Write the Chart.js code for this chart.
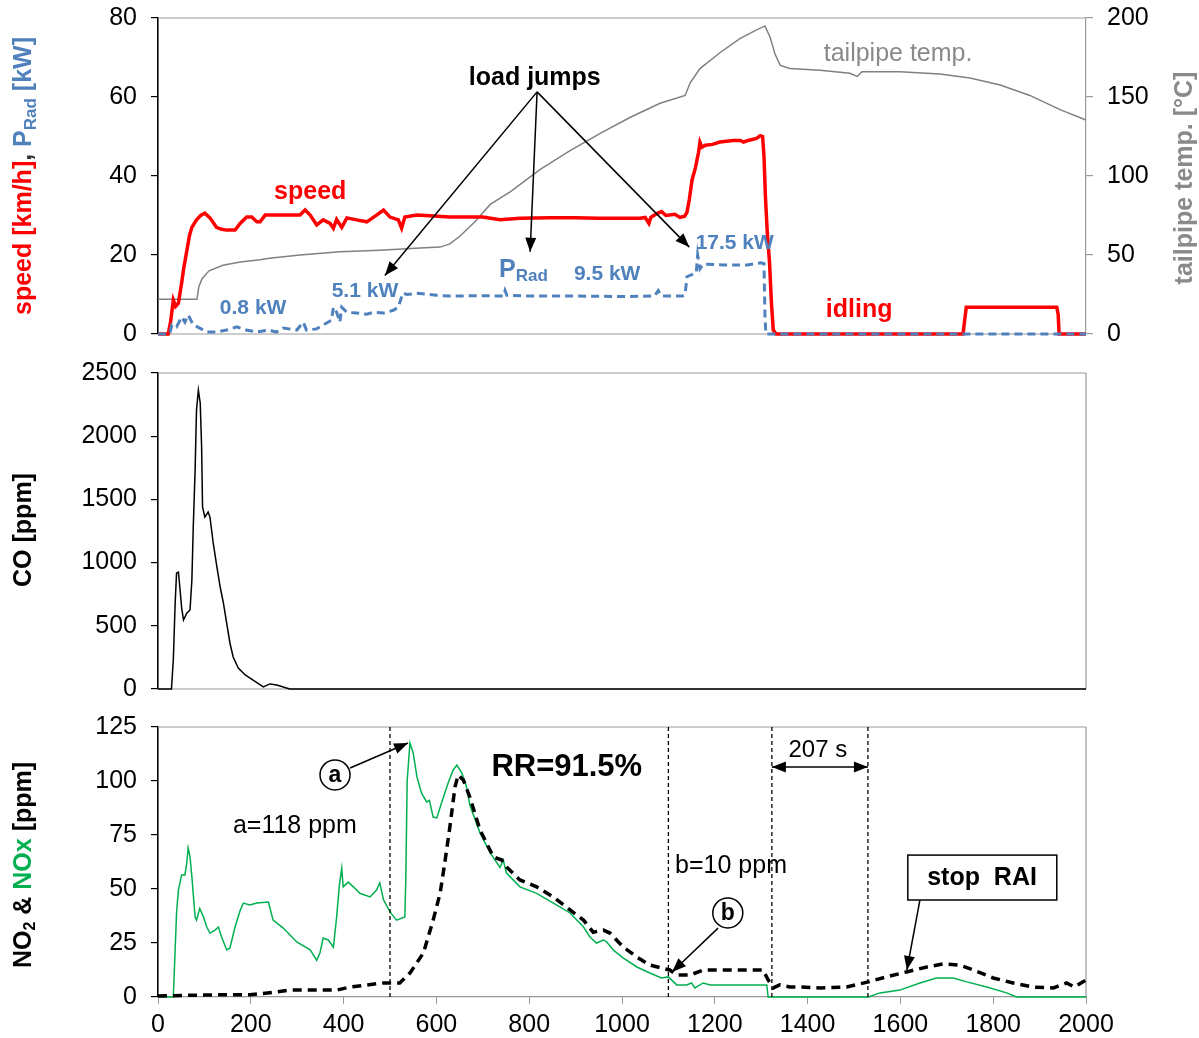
<!DOCTYPE html>
<html><head><meta charset="utf-8">
<script src="https://cdn.jsdelivr.net/npm/chart.js@4.4.0/dist/chart.umd.min.js"></script>
<style>
body{margin:0;background:#fff;width:1199px;height:1038px;overflow:hidden;position:relative}
canvas{position:absolute;left:0}
</style></head><body>
<canvas id="c1" width="1199" height="350" style="top:0"></canvas>
<canvas id="c2" width="1199" height="355" style="top:350px"></canvas>
<canvas id="c3" width="1199" height="333" style="top:705px"></canvas>
<script>
/* ── data ── */
// panel 1: speed [km/h], radiator power [kW], tailpipe temp [°C]
const speedT=[0,22,27,33,38,44,51,56,62,68,73,83,92,101,112,126,137,148,166,177,191,202,213,220,231,260,290,306,317,328,342,356,371,378,385,396,407,428,450,471,486,500,518,525,532,558,629,700,737,780,845,900,950,1000,1039,1050,1058,1062,1075,1085,1095,1114,1125,1135,1140,1145,1151,1158,1165,1168,1172,1180,1195,1211,1240,1255,1262,1272,1290,1298,1303,1306,1309,1313,1318,1322,1326,1332,1735,1738,1742,1800,1937,1940,1942,2000];
const speedV=[0,0,3,8.6,7,7.8,13,17,21,25,27,28.9,30,30.6,29.4,27,26.5,26.3,26.3,28,29.6,29.6,28.4,28.4,30.1,30.1,30.1,30.1,31.4,30.1,27.6,28.9,28,26.8,29,27,29.4,28.9,28.4,30.1,31.4,29.6,28.9,26.8,29.6,30.1,29.6,29.6,28.9,29.3,29.4,29.4,29.3,29.3,29.3,29.5,28,29.5,30.5,31,30,30.3,29.5,29.8,30.8,34,39,42,46,48.5,47.3,47.8,48,48.6,49,49,48.6,49,49.5,50.2,50,45,35,26,18,8,1,0,0,3,6.8,6.8,6.8,5,0,0];
const pradT=[0,25,30,40,51,58,65,76,90,105,126,148,170,190,213,240,255,270,299,313,320,342,356,374,378,385,392,396,407,428,450,464,486,507,518,525,528,536,560,600,629,700,745,748,752,800,900,1000,1070,1078,1085,1130,1136,1140,1160,1163,1168,1175,1220,1270,1300,1306,1308,1310,2000];
const pradV=[0,0,2.3,1.8,4.3,3,4.8,2.3,1.5,0.5,0.5,1,1.8,1,0.5,1,0.5,1.5,1,3,1,1.3,2.3,3.5,6.8,5.5,3,6.8,5.5,5.3,5,5.5,5.3,6,6.8,9.4,10.4,10,10.3,9.8,9.6,9.7,9.6,11,9.8,9.6,9.6,9.5,9.6,11,9.6,9.6,10,14.5,15.5,20,16.5,17.7,17.5,17.5,18,17.8,5,0,0];
const tempT=[0,84,88,95,110,140,177,220,240,306,392,478,565,608,629,651,683,716,759,823,888,953,1017,1082,1136,1147,1168,1211,1254,1287,1308,1319,1330,1341,1362,1427,1491,1507,1517,1599,1685,1750,1815,1879,1944,2000];
const tempV=[22,22,30,35,40,43.5,45.6,47,48,50,52,53,54.4,55,57,62,71,82,90,104,116,127,137,146,151,159,168,178,187,192,195,188,177,170,168,167,165,163,166,166,164.5,162,157.6,151,142,135.4];
// panel 2: CO [ppm]
const coT=[0,29,33,37,40,44,47,51,55,62,69,73,76,80,83,87,91,94,96,101,108,112,119,127,134,141,148,155,162,173,188,205,227,241,256,277,284,2000];
const coV=[0,0,230,680,918,925,807,640,546,600,625,862,1282,1733,2207,2365,2263,1915,1440,1360,1400,1360,1155,965,807,680,522,364,253,166,111,71,16,40,32,8,0,0];
// panel 3: NOx and NO2 [ppm]
const noxT=[0,33,40,44,51,58,62,65,69,73,80,83,90,98,105,112,123,130,137,148,155,166,177,184,198,213,238,248,270,299,328,342,349,356,367,378,385,391,396,399,410,421,435,457,471,478,486,500,514,532,534,537,543,550,558,568,579,585,593,601,611,626,636,644,655,665,672,694,716,737,744,751,780,816,852,888,917,931,945,960,967,981,1003,1032,1060,1085,1100,1118,1139,1150,1157,1175,1190,1261,1312,1315,1531,1556,1599,1642,1678,1714,1743,1786,1829,1850,2000];
const noxV=[0,0,39,49.5,56.5,56.5,62,69,65,55.6,37,35.6,41,37,32.4,29.6,31,32.4,27.8,21.8,22.7,32.4,40,43.5,42.6,43.5,44,35.6,31.9,25.5,21.8,17,20.4,27.3,26.4,23.1,37,51.9,59.7,51,53.2,51,48,46.3,49.5,52.8,45,39.4,35.6,37,54,100,117.6,113,102,94.4,90.3,91,83.3,82.9,89.8,99.5,105,107.4,103.7,97.2,88.9,76,66.7,60,63.4,57.4,51,48,43.5,38.9,32.4,27.8,25,26.4,25.5,21.8,18,13.9,11.1,8.8,9.3,5.6,5.6,6.5,4.2,6.5,5.6,5.6,5.6,0,0,1.9,3.2,6.5,8.8,8.8,7,4.6,1.9,0,0];
const no2T=[0,126,198,241,284,385,414,486,521,543,572,593,608,618,629,640,647,658,672,694,723,741,751,780,816,852,888,917,938,960,974,1003,1032,1060,1085,1103,1118,1147,1175,1304,1315,1326,1340,1362,1384,1427,1484,1531,1570,1613,1657,1692,1728,1757,1800,1843,1886,1930,1958,1975,2000];
const no2V=[0.5,1,1,2,3.2,3.2,4.6,6.5,6.5,11.1,20.4,35.6,48,62,78.7,97.2,102.8,100.5,92.6,77.3,64.8,63.4,60.2,54.2,51,46.3,40.3,35.6,30,31,29.6,23.1,18.5,14.8,13.4,12.5,10.2,10.2,12.5,12.5,7.9,4.2,5.6,4.6,4.6,4.2,4.6,7,9.3,11.6,13.9,15.3,14.8,12.5,8.8,6.5,4.6,4.2,6.5,4.6,7.9];
const markT=[500,1100,1323,1530]; // dashed markers, 1530-1323 = 207 s

/* ── helpers ── */
const FONT='"Liberation Sans", Arial, Helvetica, sans-serif';
const RED='#FF0000',BLUE='#4F81BD',GRAY='#8A8A8A',GREEN='#00B050';
const pts=(ts,vs)=>ts.map((t,i)=>({x:t,y:vs[i]}));
const tickFont={family:FONT,size:25};
const plain=v=>String(v);

function xAxis(show){return {type:'linear',min:0,max:2000,display:show,
  ticks:{stepSize:200,font:tickFont,color:'#000',padding:6,maxRotation:0,callback:plain},
  grid:{drawOnChartArea:false,tickLength:7,color:'#999'},border:{color:'#999',width:1.2},
  afterFit(s){if(s.options.display){s.height=41;s.paddingLeft=0;s.paddingRight=0;}}};}
function vAxis(pos,max,step,col,w){return {position:pos,min:0,max:max,
  ticks:{stepSize:step,font:tickFont,color:'#000',padding:14,callback:plain},
  grid:{drawOnChartArea:false,tickLength:7,color:col,lineWidth:1.2},border:{color:col,width:col==='#000'?1.6:1.2},
  afterFit(s){s.width=w;s.paddingTop=0;s.paddingBottom=0;}};}

function P(ch,t,v,yid){return [ch.scales.x.getPixelForValue(t),ch.scales[yid||'y'].getPixelForValue(v)];}
function txt(ctx,x,y,s,font,color,align){ctx.font=font;ctx.fillStyle=color;ctx.textAlign=align||'center';ctx.textBaseline='middle';ctx.fillText(s,x,y);}
function head(ctx,x1,y1,x2,y2){const a=Math.atan2(y2-y1,x2-x1),L=14,W=5.5;
  ctx.beginPath();ctx.moveTo(x2,y2);
  ctx.lineTo(x2-L*Math.cos(a)+W*Math.sin(a),y2-L*Math.sin(a)-W*Math.cos(a));
  ctx.lineTo(x2-L*Math.cos(a)-W*Math.sin(a),y2-L*Math.sin(a)+W*Math.cos(a));
  ctx.closePath();ctx.fill();}
function arrow(ctx,a,b,both){ctx.save();ctx.strokeStyle='#000';ctx.fillStyle='#000';ctx.lineWidth=1.5;ctx.setLineDash([]);
  ctx.beginPath();ctx.moveTo(a[0],a[1]);ctx.lineTo(b[0],b[1]);ctx.stroke();
  head(ctx,a[0],a[1],b[0],b[1]);if(both)head(ctx,b[0],b[1],a[0],a[1]);ctx.restore();}
function circ(ctx,c,letter){ctx.save();ctx.beginPath();ctx.arc(c[0],c[1],15,0,Math.PI*2);ctx.fillStyle='#fff';ctx.fill();
  ctx.lineWidth=1.5;ctx.strokeStyle='#000';ctx.stroke();txt(ctx,c[0],c[1]+1,letter,'bold 23px '+FONT,'#000');ctx.restore();}
// multi-coloured axis title, rotated
function rich(ctx,cx,cy,rot,segs){
  ctx.save();ctx.translate(cx,cy);ctx.rotate(rot);
  let w=0;segs.forEach(s=>{ctx.font='bold '+s.s+'px '+FONT;s.w=ctx.measureText(s.t).width;w+=s.w;});
  let x=-w/2;ctx.textAlign='left';ctx.textBaseline='alphabetic';
  segs.forEach(s=>{ctx.font='bold '+s.s+'px '+FONT;ctx.fillStyle=s.c;ctx.fillText(s.t,x,9+(s.dy||0));x+=s.w;});
  ctx.restore();}
// gray frame lines that no axis covers
function frame(top,right,bottom){return {id:'frame',beforeDatasetsDraw(ch){
  const a=ch.chartArea,c=ch.ctx;c.save();c.strokeStyle='#999';c.lineWidth=1.2;c.beginPath();
  if(top){c.moveTo(a.left,a.top);c.lineTo(a.right,a.top);}
  if(right){c.moveTo(a.right,a.top);c.lineTo(a.right,a.bottom);}
  if(bottom){c.moveTo(a.left,a.bottom);c.lineTo(a.right,a.bottom);}
  c.stroke();c.restore();}};}

const line=(data,color,w,dash,yid)=>({data:data,borderColor:color,borderWidth:w,borderDash:dash||[],pointRadius:0,tension:0,clip:6,yAxisID:yid||'y'});
const base={responsive:false,animation:false,plugins:{legend:{display:false},tooltip:{enabled:false}}};

/* ── panel 1 ── */
new Chart(document.getElementById('c1'),{type:'line',
  data:{datasets:[line(pts(pradT,pradV),BLUE,3,[8,5]),line(pts(speedT,speedV),RED,3.5),line(pts(tempT,tempV),'#808080',1.5,[],'y2')]},
  options:{...base,layout:{padding:{top:18,bottom:16}},
    scales:{x:xAxis(false),y:vAxis('left',80,20,'#000',158),y2:vAxis('right',200,50,'#999',113)}},
  plugins:[frame(true,false,true),{id:'ann1',afterDraw(ch){const c=ch.ctx;
    const B='bold 25px '+FONT,b='bold 21px '+FONT;
    txt(c,...P(ch,812,64.8),'load jumps',B,'#000');
    const o=P(ch,817,61.3);
    arrow(c,o,P(ch,489,14.8));arrow(c,o,P(ch,802,20.8));arrow(c,o,P(ch,1145,22));
    txt(c,...P(ch,328,35.9),'speed',B,RED);
    txt(c,...P(ch,205,6.6),'0.8 kW',b,BLUE);
    txt(c,...P(ch,446,10.9),'5.1 kW',b,BLUE);
    const p=P(ch,735,16.2);txt(c,p[0],p[1],'P',B,BLUE,'left');
    c.font=B;const pw=c.measureText('P').width;txt(c,p[0]+pw,p[1]+6,'Rad','bold 17px '+FONT,BLUE,'left');
    txt(c,...P(ch,968,15.2),'9.5 kW',b,BLUE);
    txt(c,...P(ch,1243,23),'17.5 kW',b,BLUE);
    txt(c,...P(ch,1511,6.1),'idling',B,RED);
    txt(c,...P(ch,1595,70.9),'tailpipe temp.','25px '+FONT,GRAY);
    rich(c,22,176,-Math.PI/2,[{t:'speed [km/h]',c:RED,s:25},{t:', ',c:'#333',s:25},{t:'P',c:BLUE,s:25},{t:'Rad',c:BLUE,s:17,dy:5},{t:' [kW]',c:BLUE,s:25}]);
    rich(c,1183,178,-Math.PI/2,[{t:'tailpipe temp. [°C]',c:GRAY,s:25}]);
  }}]});

/* ── panel 2 ── */
new Chart(document.getElementById('c2'),{type:'line',
  data:{datasets:[line(pts(coT,coV),'#000',1.5)]},
  options:{...base,layout:{padding:{top:23,bottom:16,right:113}},scales:{x:xAxis(false),y:vAxis('left',2500,500,'#000',158)}},
  plugins:[frame(true,true,true),{id:'ann2',afterDraw(ch){
    rich(ch.ctx,22,180,-Math.PI/2,[{t:'CO [ppm]',c:'#000',s:25}]);}}]});

/* ── panel 3 ── */
new Chart(document.getElementById('c3'),{type:'line',
  data:{datasets:[line(pts(no2T,no2V),'#000',3.5,[9,6]),line(pts(noxT,noxV),GREEN,1.5)]},
  options:{...base,layout:{padding:{top:22,bottom:0,right:113}},scales:{x:xAxis(true),y:vAxis('left',125,25,'#000',158)}},
  plugins:[frame(true,true,false),{id:'ann3',afterDraw(ch){const c=ch.ctx,a=ch.chartArea;
    c.save();c.strokeStyle='#000';c.lineWidth=1.3;c.setLineDash([4,3]);
    markT.forEach(t=>{const x=ch.scales.x.getPixelForValue(t);c.beginPath();c.moveTo(x,a.top);c.lineTo(x,a.bottom);c.stroke();});
    c.restore();
    const R='25px '+FONT;
    arrow(c,P(ch,414,106),P(ch,539,117.6));
    circ(c,P(ch,381.5,102.8),'a');
    txt(c,...P(ch,295,79.2),'a=118 ppm',R,'#000');
    txt(c,...P(ch,881,106.5),'RR=91.5%','bold 31px '+FONT,'#000');
    txt(c,...P(ch,1235,60.6),'b=10 ppm',R,'#000');
    arrow(c,P(ch,1207,31.9),P(ch,1108,11.6));
    circ(c,P(ch,1228,38.9),'b');
    arrow(c,P(ch,markT[2],106.5),P(ch,markT[3],106.5),true);
    txt(c,...P(ch,1422,114.4),'207 s','24px '+FONT,'#000');
    const b1=P(ch,1616,65.7),b2=P(ch,1937,44.9);
    c.save();c.fillStyle='#fff';c.fillRect(b1[0],b1[1],b2[0]-b1[0],b2[1]-b1[1]);c.strokeStyle='#000';c.lineWidth=1.5;
    c.strokeRect(b1[0],b1[1],b2[0]-b1[0],b2[1]-b1[1]);c.restore();
    txt(c,...P(ch,1776,55),'stop  RAI','bold 25px '+FONT,'#000');
    arrow(c,P(ch,1642,44.9),P(ch,1614,12.5));
    rich(c,22,160,-Math.PI/2,[{t:'NO',c:'#000',s:25},{t:'2',c:'#000',s:16,dy:4},{t:' & ',c:'#000',s:25},{t:'NOx',c:GREEN,s:25},{t:' [ppm]',c:'#000',s:25}]);
  }}]});
</script></body></html>
